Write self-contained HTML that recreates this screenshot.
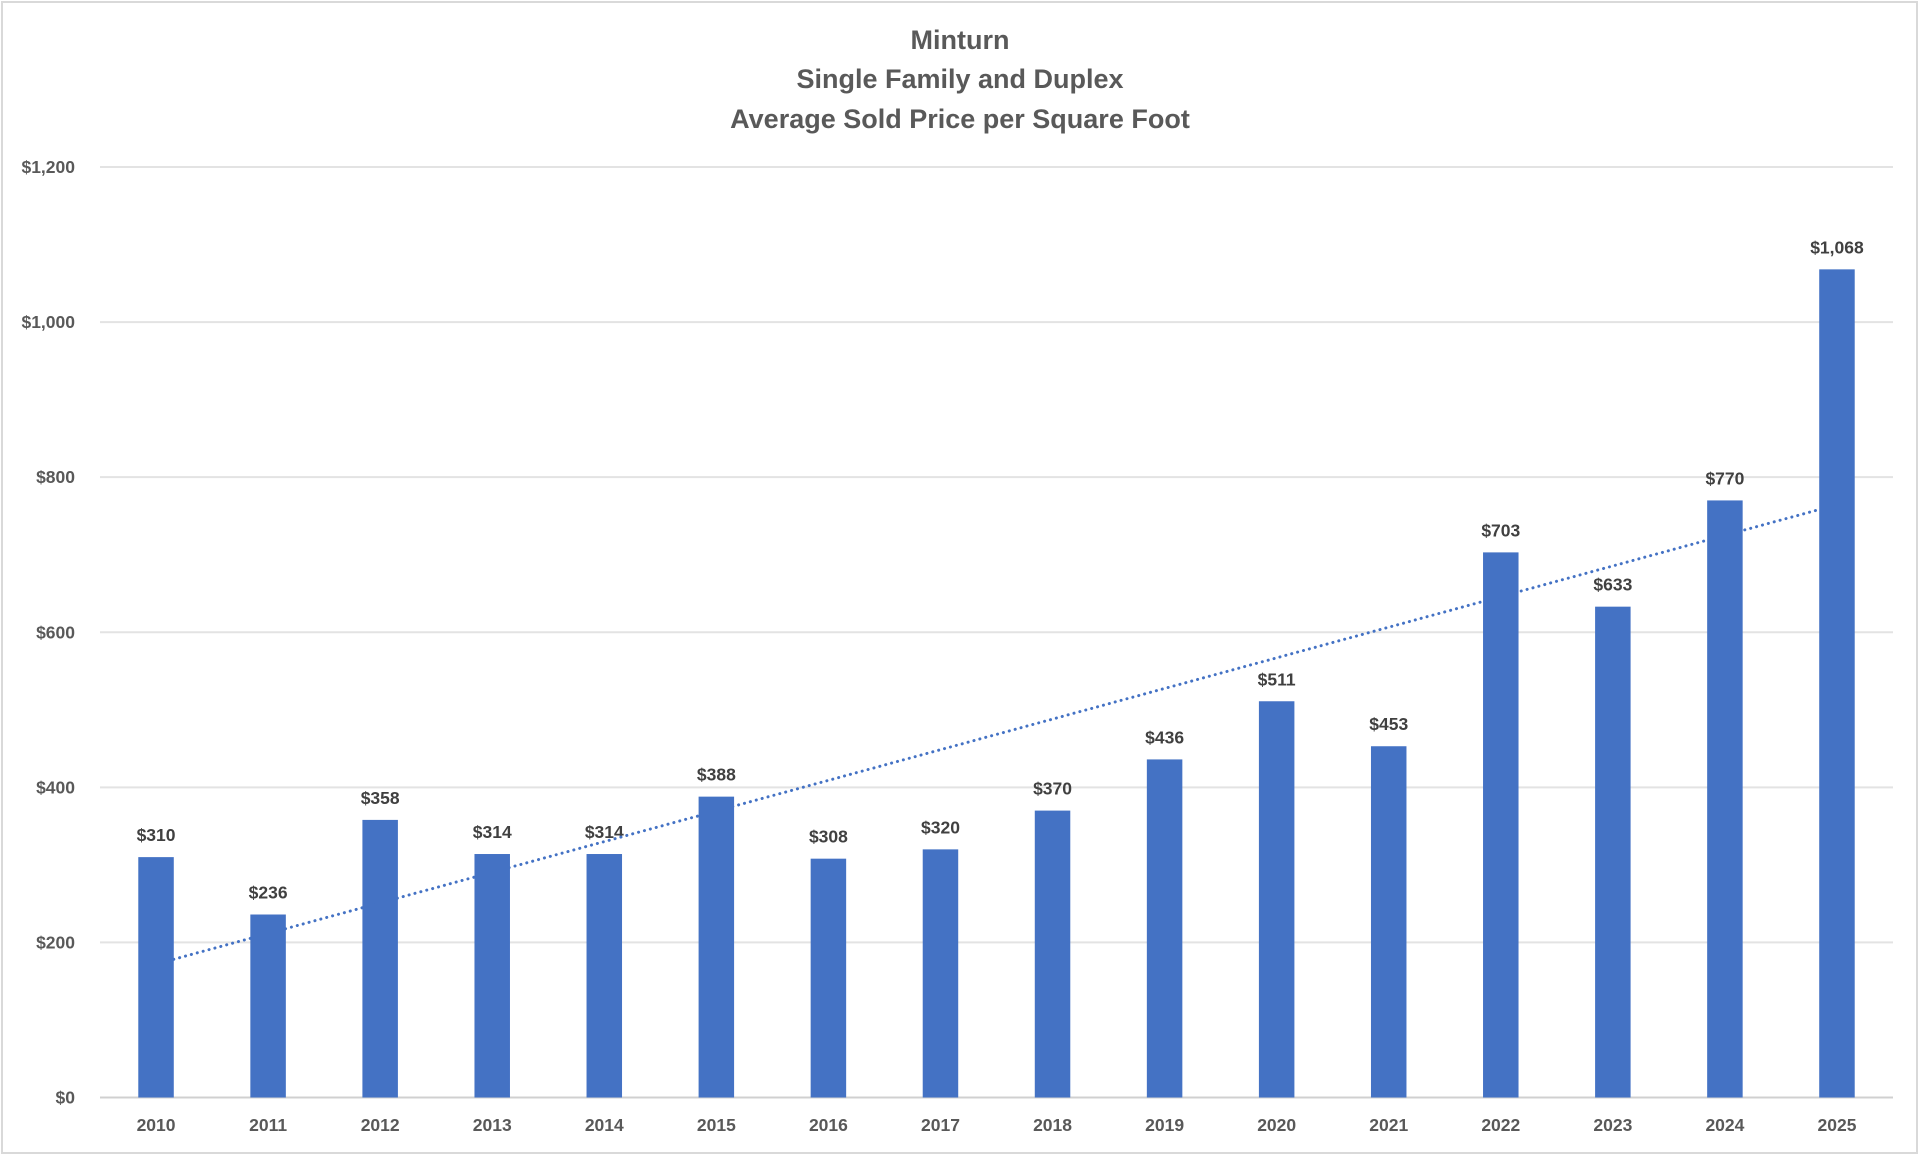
<!DOCTYPE html>
<html><head><meta charset="utf-8"><style>
html,body{margin:0;padding:0;background:#fff}
svg{display:block;font-family:"Liberation Sans",sans-serif}
</style></head><body>
<svg id="c" width="1920" height="1157">
<rect x="2" y="2" width="1915" height="1151" fill="#fff" stroke="#d9d9d9" stroke-width="2"/>
<g fill="#595959" font-size="27" font-weight="bold" text-anchor="middle">
<text x="960" y="49">Minturn</text>
<text x="960" y="88">Single Family and Duplex</text>
<text x="960" y="128">Average Sold Price per Square Foot</text>
</g>
<g id="grid"></g><g id="bars"></g><g id="labels"></g>
</svg>
<script>
const categories=["2010","2011","2012","2013","2014","2015","2016","2017","2018","2019","2020","2021","2022","2023","2024","2025"];
const values=[310,236,358,314,314,388,308,320,370,436,511,453,703,633,770,1068];
const yTicks=[0,200,400,600,800,1000,1200];
const yTickLabels=["$0","$200","$400","$600","$800","$1,000","$1,200"];
const NS="http://www.w3.org/2000/svg";
const L=100,R=1893,Y0=1097.5,YT=167,YMAX=1200;
const band=(R-L)/categories.length;
const x=i=>L+band*(i+0.5);
const y=v=>Y0-(Y0-YT)*v/YMAX;
function mk(t,a,p){const e=document.createElementNS(NS,t);for(const k in a)e.setAttribute(k,a[k]);p.appendChild(e);return e;}
const grid=document.getElementById('grid'),bars=document.getElementById('bars'),labels=document.getElementById('labels');
yTicks.forEach((v,i)=>{
  const ln=mk('line',{x1:L,x2:R,y1:y(v),y2:y(v),stroke:v===0?'#d0d0d0':'#e3e3e3','stroke-width':2},grid);
  
  
  const t=mk('text',{x:75,y:y(v)+6,'text-anchor':'end','font-size':17.5,'font-weight':'bold',fill:'#595959'},grid);
  t.textContent=yTickLabels[i];
  
  
});
const bw=35.5;
values.forEach((v,i)=>{
  const r=mk('rect',{x:x(i)-bw/2,y:y(v),width:bw,height:Y0-y(v),fill:'#4472C4'},bars);
  
  
  const t=mk('text',{x:x(i),y:y(v)-16,'text-anchor':'middle','font-size':17.5,'font-weight':'bold',fill:'#404040'},labels);
  t.textContent='$'+v.toLocaleString('en-US');
  
  
  const c=mk('text',{x:x(i),y:1131,'text-anchor':'middle','font-size':17.5,'font-weight':'bold',fill:'#595959'},labels);
  c.textContent=categories[i];
  
  
});
const n=values.length;let sx=0,sy=0,sxy=0,sxx=0;
values.forEach((v,i)=>{sx+=i;sy+=v;sxy+=i*v;sxx+=i*i;});
const m=(n*sxy-sx*sy)/(n*sxx-sx*sx),b=(sy-m*sx)/n;
const tl=mk('line',{x1:x(0),y1:y(b),x2:x(n-1),y2:y(b+m*(n-1)),stroke:'#4472C4','stroke-width':3,'stroke-dasharray':'0.1 6','stroke-linecap':'round'},labels);


</script>
</body></html>
